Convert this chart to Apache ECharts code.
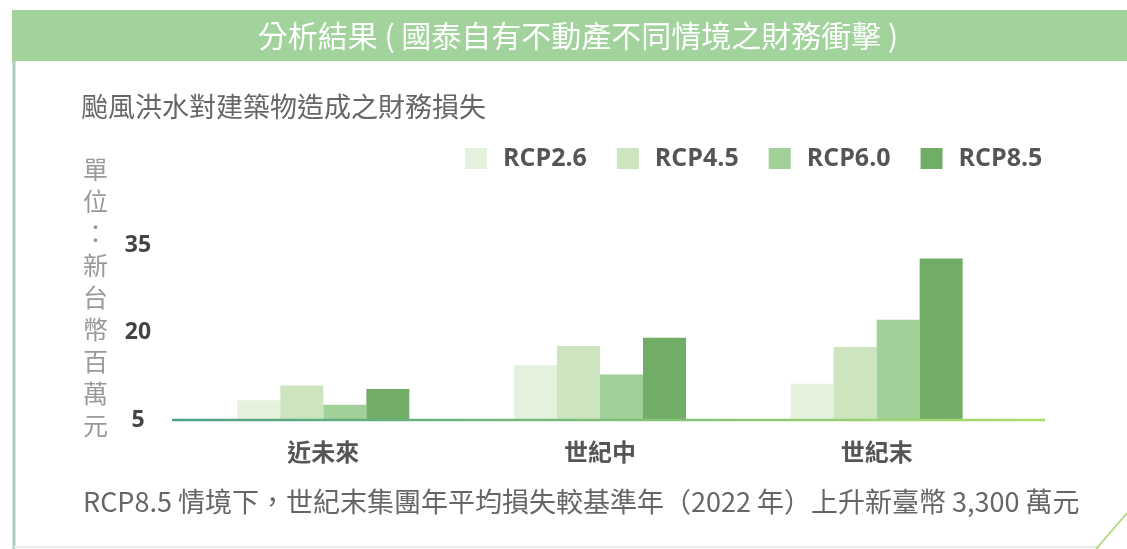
<!DOCTYPE html>
<html lang="zh-Hant">
<head>
<meta charset="UTF-8">
<title>分析結果</title>
<style>
  html, body { margin: 0; padding: 0; background: #fff; }
  #main { width: 1127px; height: 549px; }
</style>
</head>
<body>
<div id="main"></div>
<script src="https://cdn.jsdelivr.net/npm/echarts@6/dist/echarts.min.js"></script>
<script>
// 資料
var periods = ['近未來', '世紀中', '世紀末'];
var scenarios = ['RCP2.6', 'RCP4.5', 'RCP6.0', 'RCP8.5'];
var rcp26 = [8.4, 14.4, 11.2];
var rcp45 = [10.9, 17.7, 17.5];
var rcp60 = [7.6, 12.8, 22.2];
var rcp85 = [10.3, 19.1, 32.7];
var yTicks = [5, 20, 35];
var colors = ['#e4f1dd', '#cce5bf', '#a1d198', '#72ad68'];

var font = '"Noto Sans CJK TC", "Noto Sans", sans-serif';
var myChart = echarts.init(document.getElementById('main'));

var seriesData = [rcp26, rcp45, rcp60, rcp85];
var series = scenarios.map(function (name, i) {
    return {
        name: name,
        type: 'bar',
        data: seriesData[i],
        barWidth: 43,
        barGap: '0%',
        itemStyle: { color: colors[i] },
        z: 2
    };
});

var option = {
    backgroundColor: '#fff',
    animation: false,
    title: [{
        text: '颱風洪水對建築物造成之財務損失',
        left: 76, top: 88,
        textStyle: { color: '#666', fontSize: 27, fontWeight: 'normal', fontFamily: font }
    }, {
        text: '單\n位\n：\n新\n台\n幣\n百\n萬\n元',
        left: 78, top: 148,
        textStyle: { color: '#999', fontSize: 25, fontWeight: 'normal', fontFamily: font, lineHeight: 32 }
    }, {
        text: 'RCP8.5 情境下，世紀末集團年平均損失較基準年（2022 年）上升新臺幣 3,300 萬元',
        left: 78, top: 483,
        textStyle: { color: '#666', fontSize: 27, fontWeight: 'normal', fontFamily: font }
    }],
    legend: {
        data: scenarios,
        left: 460, top: 141,
        itemWidth: 22, itemHeight: 21, itemGap: 30,
        icon: 'rect',
        textStyle: { color: '#555', fontSize: 25, fontWeight: 'bold', fontFamily: '"Open Sans", sans-serif', padding: [0, 0, 0, 11] }
    },
    grid: { left: 185, right: 112, top: 245, bottom: 129, containLabel: false },
    xAxis: {
        type: 'category',
        data: periods,
        axisLine: { show: false },
        axisTick: { show: false },
        axisLabel: { color: '#555', fontSize: 24, fontWeight: 'bold', fontFamily: font, margin: 20 }
    },
    yAxis: {
        type: 'value',
        min: yTicks[0], max: yTicks[yTicks.length - 1], interval: 5,
        splitLine: { show: false },
        axisLine: { show: false },
        axisTick: { show: false },
        axisLabel: {
            color: '#444', fontSize: 23, fontWeight: 'bold', fontFamily: '"Open Sans", sans-serif',
            align: 'center', margin: 47,
            formatter: function (v) { return yTicks.indexOf(v) >= 0 ? String(v) : ''; }
        }
    },
    graphic: [
        // 標題列
        { type: 'rect', shape: { x: 12, y: 10, width: 1115, height: 51 }, style: { fill: '#a2d39c' }, z: 0 },
        { type: 'text', x: 578, y: 36, style: {
            text: '分析結果 ( 國泰自有不動產不同情境之財務衝擊 )', fill: '#fff',
            fontSize: 30, fontFamily: font, align: 'center', verticalAlign: 'middle'
        }, z: 1 },
        // 外框
        { type: 'line', shape: { x1: 14, y1: 61, x2: 14, y2: 549 }, style: { stroke: '#a9cdb9', lineWidth: 3 } },
        { type: 'line', shape: { x1: 14, y1: 547, x2: 1100, y2: 547 }, style: { stroke: '#e6f0e8', lineWidth: 2 } },
        { type: 'line', shape: { x1: 1096, y1: 549, x2: 1127, y2: 513 }, style: { stroke: '#a7d56e', lineWidth: 1.5 } },
        // 基準線
        { type: 'line', shape: { x1: 172, y1: 420, x2: 1045, y2: 420 }, z: 10,
          style: { lineWidth: 2.5, stroke: new echarts.graphic.LinearGradient(0, 0, 1, 0, [
            { offset: 0, color: '#4fa085' }, { offset: 1, color: '#addc6e' }
          ]) } }
    ],
    series: series
};

myChart.setOption(option);
</script>
</body>
</html>
